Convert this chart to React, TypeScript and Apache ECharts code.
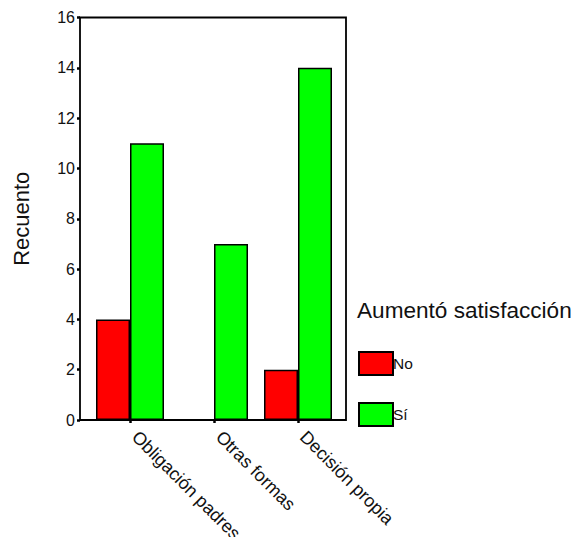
import React, { useEffect, useRef } from "react";
import * as echarts from "echarts";

const categories = ["Obligación padres", "Otras formas", "Decisión propia"];
const seriesNames = ["No", "Sí"];
const noValues = [4, 0, 2];
const siValues = [11, 7, 14];
const colors = ["#ff0000", "#00ff00"];

const FONT = "'Liberation Sans', Arial, sans-serif";

// zero counts are not drawn as bars (no empty outline at the baseline)
const toBar = (v: number) => (v === 0 ? "-" : v);

export default function App() {
  const ref = useRef<HTMLDivElement>(null);
  useEffect(() => {
    document.body.style.margin = "0";
    const chart = echarts.init(ref.current!, null, { renderer: "svg" });
    const gridLeft = 88;
    const gridRight = 340;
    const gridTop = 17.5;
    const gridBottom = 420;
    chart.setOption({
      animation: false,
      textStyle: { fontFamily: FONT },
      title: {
        text: "Aumentó satisfacción",
        left: 352,
        top: 294,
        textStyle: { fontSize: 22.6, fontWeight: "normal", color: "#111", fontFamily: FONT },
      },
      legend: {
        orient: "vertical",
        left: 353,
        top: 346,
        itemWidth: 34,
        itemHeight: 23,
        itemGap: 26,
        icon: "rect",
        textStyle: { fontSize: 15.5, color: "#111", padding: [0, 0, 0, -5], fontFamily: FONT },
        data: seriesNames,
      },
      grid: {
        left: gridLeft,
        right: 574 - gridRight,
        top: gridTop,
        bottom: 537 - gridBottom,
        containLabel: false,
        outerBoundsMode: "none",
      },
      xAxis: {
        type: "category",
        data: categories,
        axisLine: { show: false },
        axisTick: { show: true, alignWithLabel: true, length: 3, lineStyle: { color: "#000", width: 2.5 } },
        axisLabel: {
          rotate: -45,
          margin: 9,
          padding: [0, 0, 0, 7],
          fontSize: 18,
          color: "#111",
          fontFamily: FONT,
        },
      },
      yAxis: {
        type: "value",
        min: 0,
        max: 16,
        interval: 2,
        offset: 8,
        name: "Recuento",
        nameLocation: "middle",
        nameGap: 48,
        nameTextStyle: { fontSize: 22, color: "#111", fontFamily: FONT },
        axisLine: { show: false },
        axisTick: { show: true, length: 3, lineStyle: { color: "#000", width: 2.5 } },
        axisLabel: { fontSize: 16, color: "#111", margin: 5, fontFamily: FONT },
        splitLine: { show: false },
      },
      series: [
        {
          name: seriesNames[0],
          type: "bar",
          data: noValues.map(toBar),
          barWidth: 34,
          barGap: "0%",
          itemStyle: { color: colors[0], borderColor: "#000", borderWidth: 1.5 },
        },
        {
          name: seriesNames[1],
          type: "bar",
          data: siValues.map(toBar),
          barWidth: 34,
          barGap: "0%",
          itemStyle: { color: colors[1], borderColor: "#000", borderWidth: 1.5 },
        },
      ],
      graphic: [
        {
          type: "rect",
          shape: { x: 80, y: gridTop, width: 266, height: gridBottom - gridTop },
          style: { fill: "none", stroke: "#000", lineWidth: 1.8 },
          z: 10,
        },
      ],
    });
    return () => chart.dispose();
  }, []);
  return <div ref={ref} style={{ width: 574, height: 537 }} />;
}
